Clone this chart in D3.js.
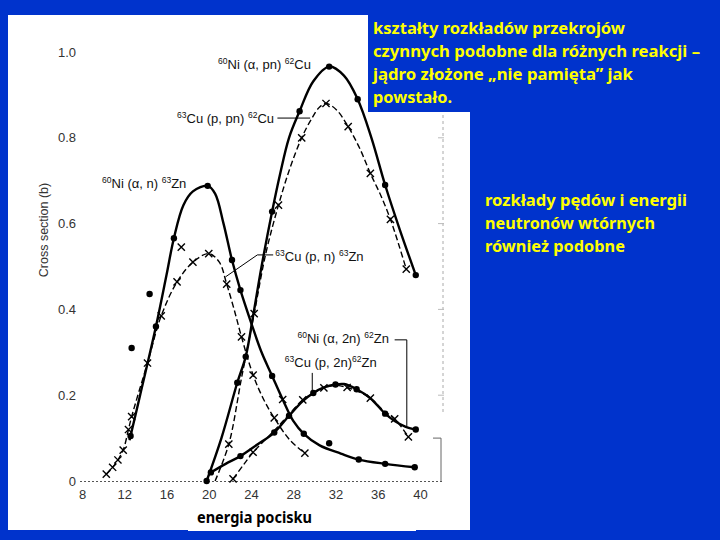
<!DOCTYPE html>
<html><head><meta charset="utf-8">
<script src="https://cdn.jsdelivr.net/npm/d3@7/dist/d3.min.js"></script>
<style>body{margin:0;background:#0033cc;}svg{display:block}</style>
</head><body>
<svg id="c" width="720" height="540"></svg>
<script>
// ---------- data ----------
const xTicks = [8, 12, 16, 20, 24, 28, 32, 36, 40];
const yTicks = [0, 0.2, 0.4, 0.6, 0.8, 1.0];
const yTickLabels = ["0", "0.2", "0.4", "0.6", "0.8", "1.0"];

// 60Ni(α,n)63Zn  (solid, dots)
const niAnCurve = [[12.5,0.095],[13.5,0.2],[15.0,0.36],[16.0,0.48],[16.7,0.566],[17.6,0.643],[18.5,0.675],[19.9,0.688],[20.6,0.67],[21.4,0.6],[22.2,0.515],[23.0,0.445],[24.0,0.37],[25.0,0.3],[26.0,0.245],[27.0,0.19],[28.0,0.14],[29.0,0.11],[30.5,0.083],[32.5,0.064],[34.2,0.05],[36.7,0.04],[39.5,0.032]];
const niAnDots = [[12.6,0.105],[15.0,0.36],[16.7,0.566],[19.9,0.688],[22.2,0.515],[23.0,0.445],[26.0,0.245],[29.0,0.11],[34.2,0.05],[36.7,0.04],[39.5,0.032]];
// 63Cu(p,n)63Zn  (dashed, crosses)
const cuPnCurve = [[10.3,0.016],[10.9,0.032],[11.4,0.049],[11.9,0.072],[12.4,0.12],[12.7,0.15],[14.2,0.275],[15.5,0.385],[17.0,0.464],[18.5,0.51],[20.0,0.53],[21.0,0.51],[21.7,0.459],[22.4,0.4],[23.1,0.336],[24.2,0.247],[25.2,0.19],[26.2,0.147],[27.7,0.095],[29.1,0.065]];
const cuPnCross = [[10.3,0.016],[10.9,0.032],[11.4,0.049],[11.9,0.072],[12.4,0.12],[12.7,0.15],[14.2,0.275],[15.5,0.385],[17.0,0.464],[18.5,0.51],[20.0,0.53],[21.7,0.459],[23.1,0.336],[24.2,0.247],[26.2,0.147],[29.1,0.065]];
// 60Ni(α,pn)62Cu  (solid, dots)
const niApnCurve = [[19.8,0.0],[21.2,0.1],[22.7,0.229],[23.5,0.29],[24.2,0.385],[25.0,0.5],[26.0,0.628],[26.75,0.715],[27.6,0.8],[28.6,0.862],[29.9,0.932],[31.4,0.966],[32.8,0.945],[34.1,0.89],[35.4,0.8],[36.7,0.69],[38.1,0.585],[39.6,0.48]];
const niApnDots = [[19.8,0.0],[22.7,0.229],[23.5,0.29],[26.0,0.628],[28.6,0.862],[31.4,0.966],[34.1,0.89],[36.7,0.69],[39.6,0.48]];
// 63Cu(p,pn)62Cu  (dashed, crosses)
const cuPpnCurve = [[20.6,0.0],[21.9,0.086],[23.1,0.24],[24.3,0.39],[25.4,0.53],[26.6,0.643],[27.7,0.73],[28.8,0.8],[29.75,0.845],[30.5,0.872],[31.1,0.88],[32.1,0.865],[33.2,0.826],[34.3,0.775],[35.3,0.717],[36.3,0.665],[37.2,0.61],[38.0,0.55],[38.7,0.494]];
const cuPpnCross = [[21.9,0.086],[24.3,0.39],[26.6,0.643],[28.8,0.8],[31.1,0.88],[33.2,0.826],[35.3,0.717],[37.2,0.61],[38.7,0.494]];
// 60Ni(α,2n)62Zn  (solid, dots)
const niA2nCurve = [[20.2,0.02],[21.6,0.04],[23.0,0.058],[24.6,0.085],[26.2,0.113],[27.6,0.152],[28.9,0.186],[29.9,0.205],[30.9,0.218],[32.0,0.225],[32.8,0.226],[34.0,0.214],[35.3,0.193],[36.7,0.157],[37.6,0.14],[38.6,0.127],[39.6,0.12]];
const niA2nDots = [[20.2,0.02],[23.0,0.058],[26.2,0.113],[27.6,0.152],[29.9,0.205],[32.0,0.225],[34.0,0.214],[36.7,0.157],[39.6,0.12]];
// 63Cu(p,2n)62Zn  (dashed, crosses)
const cuP2nCurve = [[22.3,0.005],[23.3,0.038],[24.2,0.067],[25.5,0.1],[26.6,0.128],[27.7,0.158],[28.9,0.189],[29.9,0.205],[30.9,0.217],[32.0,0.223],[33.1,0.218],[34.2,0.208],[35.3,0.193],[36.5,0.165],[37.6,0.145],[38.9,0.103]];
const cuP2nCross = [[22.3,0.005],[24.2,0.067],[28.9,0.189],[30.9,0.217],[33.1,0.218],[35.3,0.193],[37.6,0.145],[38.9,0.103]];
// isolated measurement points
const strayDots = [[12.7,0.31],[14.4,0.436],[31.4,0.088]];
const strayCross = [[17.4,0.545],[27.0,0.19]];

const note1 = ["kształty rozkładów przekrojów", "czynnych podobne dla różnych reakcji –", "jądro złożone „nie pamięta” jak", "powstało."];
const note1Widths = [252, 327, 260, 79];
const note2 = ["rozkłady pędów i energii", "neutronów wtórnych", "również podobne"];
const note2Widths = [202, 170, 140];
const xTitle = "energia pocisku";
const yTitle = "Cross section (b)";

// ---------- drawing ----------
const svg = d3.select("#c");
svg.append("rect").attr("width",720).attr("height",540).attr("fill","#0033cc");
svg.append("rect").attr("x",8).attr("y",15).attr("width",462).attr("height",515).attr("fill","#fff");

const x = d3.scaleLinear().domain([8,40]).range([82,420]);
const y = d3.scaleLinear().domain([0,1]).range([481,52]);

const g = svg.append("g");

// baseline (dotted, scanned)
g.append("line").attr("x1",80).attr("x2",442).attr("y1",y(0)+0.5).attr("y2",y(0)+0.5)
  .attr("stroke","#555").attr("stroke-width",1).attr("stroke-dasharray","2,2");
// right frame remnants
g.append("line").attr("x1",443).attr("x2",443).attr("y1",115).attr("y2",415)
  .attr("stroke","#aaa").attr("stroke-width",1).attr("stroke-dasharray","3,3");
g.append("path").attr("d",`M433,${y(0.1)}H441V${y(0)}`).attr("fill","none").attr("stroke","#666").attr("stroke-width",1);
yTicks.filter(d=>d>0.1 && d<0.9).forEach(d=>{
  g.append("line").attr("x1",438).attr("x2",444).attr("y1",y(d)).attr("y2",y(d)).attr("stroke","#bbb").attr("stroke-width",1);
});

// axes (labels only)
const xa = g.append("g").attr("transform",`translate(0,${y(0)})`)
  .call(d3.axisBottom(x).tickValues(xTicks).tickSize(0).tickPadding(9).tickFormat(d3.format("d")));
const ya = g.append("g").attr("transform",`translate(80,0)`)
  .call(d3.axisLeft(y).tickValues(yTicks).tickSize(0).tickPadding(4).tickFormat((d,i)=>yTickLabels[i]));
[xa,ya].forEach(a=>{
  a.select(".domain").remove();
  a.selectAll("text").attr("font-family","Liberation Sans, Arial, sans-serif").attr("font-size",13).attr("fill","#333");
});

g.append("text").attr("transform",`translate(48,230) rotate(-90)`).attr("text-anchor","middle")
  .attr("font-family","Liberation Sans, Arial, sans-serif").attr("font-size",12.5).attr("fill","#333").text(yTitle);

const line = d3.line().x(d=>x(d[0])).y(d=>y(d[1])).curve(d3.curveCatmullRom.alpha(0.5));

function solid(data){ g.append("path").datum(data).attr("d",line).attr("fill","none").attr("stroke","#000").attr("stroke-width",2.4).attr("stroke-linejoin","round"); }
function dashed(data){ g.append("path").datum(data).attr("d",line).attr("fill","none").attr("stroke","#000").attr("stroke-width",1.4).attr("stroke-dasharray","6,3"); }
function dots(data){ g.append("g").selectAll("circle").data(data).join("circle").attr("cx",d=>x(d[0])).attr("cy",d=>y(d[1])).attr("r",3.2).attr("fill","#000"); }
function crosses(data){
  g.append("g").selectAll("path").data(data).join("path")
   .attr("d",d=>{const cx=x(d[0]),cy=y(d[1]),s=3.6;return `M${cx-s},${cy-s}L${cx+s},${cy+s}M${cx-s},${cy+s}L${cx+s},${cy-s}`;})
   .attr("stroke","#000").attr("stroke-width",1.4).attr("fill","none");
}

dashed(cuPnCurve); crosses(cuPnCross);
solid(niAnCurve); dots(niAnDots);
dashed(cuPpnCurve); crosses(cuPpnCross);
solid(niApnCurve); dots(niApnDots);
dashed(cuP2nCurve); crosses(cuP2nCross);
solid(niA2nCurve); dots(niA2nDots);
dots(strayDots); crosses(strayCross);

// reaction labels
function label(parts, px, py){
  const t = g.append("text").attr("x",px).attr("y",py).attr("font-family","Liberation Sans, Arial, sans-serif").attr("font-size",13).attr("fill","#111");
  parts.forEach(p=>{
    if(p[1]) t.append("tspan").attr("font-size",8.5).attr("baseline-shift","5").text(p[0]);
    else t.append("tspan").text(p[0]);
  });
}
label([["60",1],["Ni (α, pn) ",0],["62",1],["Cu",0]], x(20.88), y(0.96));
label([["63",1],["Cu (p, pn) ",0],["62",1],["Cu",0]], x(17.0), y(0.834));
label([["60",1],["Ni (α, n) ",0],["63",1],["Zn",0]], x(9.9), y(0.683));
label([["63",1],["Cu (p, n) ",0],["63",1],["Zn",0]], x(26.3), y(0.513));
label([["60",1],["Ni (α, 2n) ",0],["62",1],["Zn",0]], x(28.4), y(0.322));
label([["63",1],["Cu (p, 2n)",0],["62",1],["Zn",0]], x(27.2), y(0.266));

const lead = d3.line().x(d=>x(d[0])).y(d=>y(d[1]));
[
  [[26.5,0.846],[29.6,0.846]],
  [[21.6,0.476],[24.6,0.527],[26.1,0.527]],
  [[37.6,0.329],[38.75,0.329],[38.75,0.127]],
  [[29.8,0.252],[29.8,0.2]]
].forEach(p=>g.append("path").attr("d",lead(p)).attr("fill","none").attr("stroke","#000").attr("stroke-width",1));

// blue text box over picture
svg.append("rect").attr("x",368).attr("y",0).attr("width",352).attr("height",112).attr("fill","#0033cc");

const yellowFont = "'Noto Sans', 'DejaVu Sans', sans-serif";
note1.forEach((s,i)=>svg.append("text").attr("x",373).attr("y",34+i*23).attr("font-family",yellowFont)
  .attr("font-weight",700).attr("font-size",15.5).attr("fill","#ffff00")
  .attr("textLength",note1Widths[i]).attr("lengthAdjust","spacingAndGlyphs").text(s));
note2.forEach((s,i)=>svg.append("text").attr("x",485).attr("y",206+i*23).attr("font-family",yellowFont)
  .attr("font-weight",700).attr("font-size",15.5).attr("fill","#ffff00")
  .attr("textLength",note2Widths[i]).attr("lengthAdjust","spacingAndGlyphs").text(s));

// x title box
svg.append("rect").attr("x",188).attr("y",505).attr("width",228).attr("height",26).attr("fill","#fff");
svg.append("text").attr("x",197).attr("y",523).attr("font-family",yellowFont).attr("font-weight",700)
  .attr("font-size",15.5).attr("fill","#000").attr("textLength",115).attr("lengthAdjust","spacingAndGlyphs").text(xTitle);
</script>
</body></html>
